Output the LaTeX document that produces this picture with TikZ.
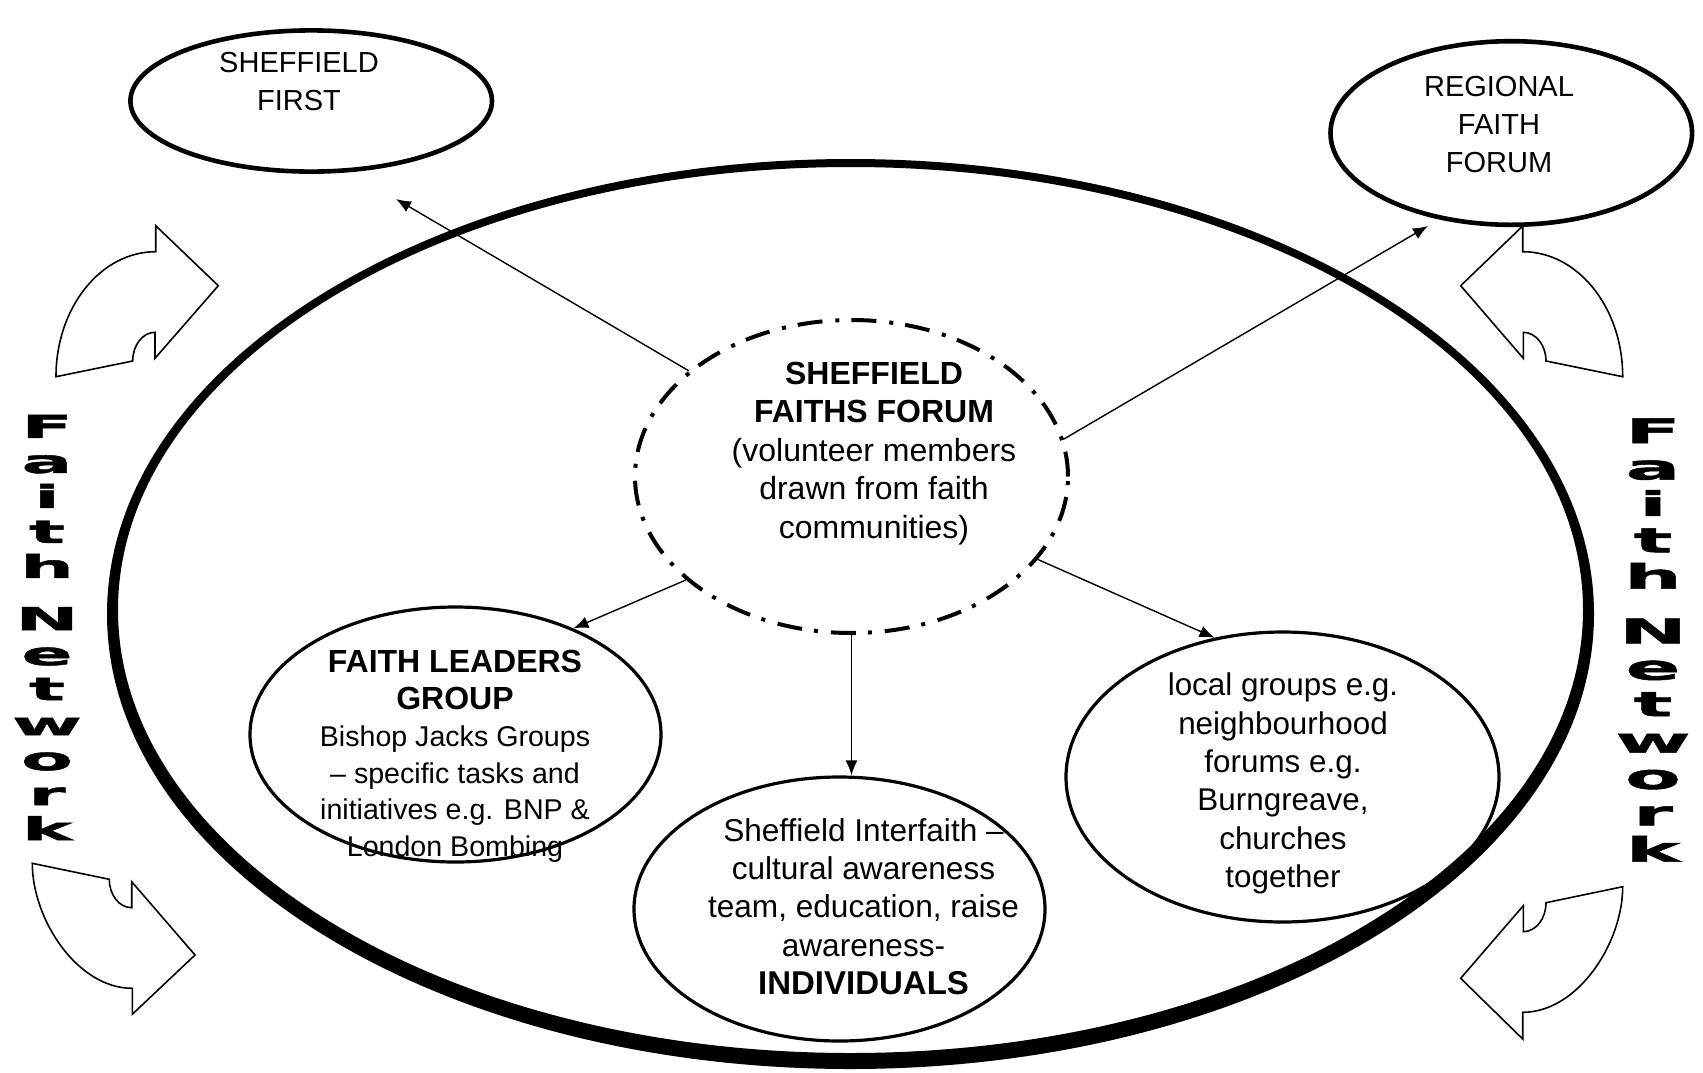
\documentclass[tikz,border=0pt]{standalone}
\usepackage{fontspec}
\setmainfont{Liberation Sans}
\newfontfamily\heavyfont[FakeStretch=2.4,FakeBold=1.5]{DejaVu Sans}
\usetikzlibrary{shapes.geometric,arrows.meta}
\tikzset{
  bub/.style={draw, ellipse, line width=1.6pt, inner sep=0pt},
  topbub/.style={draw, ellipse, line width=2.3pt, inner sep=0pt},
  txt/.style={align=center, inner sep=0pt, font=\fontsize{15.7}{19.2}\selectfont},
  conn/.style={-{Latex[length=7.5pt,width=6pt]}, line width=0.7pt},
  curvearrow/.style={draw, line width=0.8pt, line join=miter, fill=white},
  vert/.style={align=center, inner sep=0pt},
}
\begin{document}
\begin{tikzpicture}[x=0.5pt,y=-0.5pt]
\useasboundingbox (0,0) rectangle (1703,1072);
% outer thick ellipse (ring, heavier at the bottom)
\fill[even odd rule] (850.5,614) ellipse [x radius=743.5, y radius=455]
                     (850.5,610) ellipse [x radius=732.5, y radius=443];
% top ellipses
\node[topbub, minimum width=180.8pt, minimum height=70.6pt] (sf) at (311.2,101) {};
\node[topbub, minimum width=180.8pt, minimum height=91.8pt] (rf) at (1511.3,133) {};
% centre dash-dot ellipse
\node[draw, ellipse, inner sep=0pt, line width=2pt, dash pattern=on 12.5pt off 6pt on 2pt off 6.5pt, minimum width=216.5pt, minimum height=156.5pt] (ff) at (851.5,476.5) {};
% inner ellipses
\node[bub, minimum width=205.5pt, minimum height=127.5pt] (fl) at (455.5,734.5) {};
\node[bub, minimum width=205.5pt, minimum height=132pt] (ii) at (839.5,909) {};
\node[bub, minimum width=216.5pt, minimum height=145pt] (lg) at (1282.5,777) {};

% texts
\node[txt, font=\fontsize{14.5}{19}\selectfont] (sftxt) at (299,82) {SHEFFIELD\\FIRST};
\node[txt, font=\fontsize{14.5}{19}\selectfont] (rftxt) at (1499,125) {REGIONAL\\FAITH\\FORUM};
\node[txt, font=\fontsize{16}{19.3}\selectfont] (fftxt) at (874,453.5) {{\bfseries SHEFFIELD}\\{\bfseries FAITHS FORUM}\\(volunteer members\\drawn from faith\\communities)};
\node[txt, font=\fontsize{14.3}{18.4}\selectfont] (fltxt) at (455,756.5) {{\fontsize{16}{18.4}\selectfont\bfseries FAITH LEADERS}\\{\fontsize{16}{18.4}\selectfont\bfseries GROUP}\\Bishop Jacks Groups\\– specific tasks and\\initiatives e.g. BNP \&\\London Bombing};
\node[txt, font=\fontsize{15.8}{19.15}\selectfont] (iitxt) at (863.5,906.5) {Sheffield Interfaith –\\cultural awareness\\team, education, raise\\awareness-\\{\fontsize{16.5}{19.15}\selectfont\bfseries INDIVIDUALS}};
\node[txt] (lgtxt) at (1283,783.5) {local groups e.g.\\neighbourhood\\forums e.g.\\Burngreave,\\churches\\together};

% connectors
\coordinate (t1) at (396,199);
\coordinate (t2) at (1428,226);
\draw[conn] (ff.147) -- (t1);
\draw[conn] (ff.10) -- (t2);
\draw[conn] (ff.212) -- (fl.42);
\draw[conn] (ff.south) -- (ff.south |- ii.north);
\draw[conn] (ff.336) -- (lg.116);

% curved block arrows
\draw[curvearrow] (218.3,285.7) -- (155.7,225.7) -- (155.7,251.7) .. controls (100.6,251.7) and (56,307.7) .. (56,376.7) -- (132.7,361) .. controls (132.7,345.1) and (142.7,332.3) .. (155,332.3) -- (155,358.3) -- cycle;
\draw[curvearrow] (1460.7,285.7) -- (1522.7,226) -- (1522.7,251.7) .. controls (1578,251.7) and (1622.7,307.7) .. (1622.7,376.7) -- (1546,361) .. controls (1546,345.1) and (1535.6,332.3) .. (1523.3,332.3) -- (1523.3,358.3) -- cycle;
\draw[curvearrow] (32.3,863.3) -- (109.3,879.3) .. controls (109.3,895) and (119.3,907.7) .. (131.7,907.7) -- (131.7,881.7) -- (195,955) -- (132.3,1014.3) -- (132.3,988.3) .. controls (77.1,988.3) and (32.3,919.3) .. (32.3,863.3) -- cycle;
\draw[curvearrow] (1622.7,886.7) -- (1546,902.7) .. controls (1546,918.7) and (1535.8,931.7) .. (1523.3,931.7) -- (1523.3,905.7) -- (1460.7,978.3) -- (1522.7,1039) -- (1522.7,1012.3) .. controls (1577.9,1012.3) and (1622.7,942.9) .. (1622.7,886.7) -- cycle;

% vertical labels
\node[vert, font=\heavyfont\bfseries\fontsize{15.8}{17.5}\selectfont] (fnl) at (47,627.5) {F\\a\\i\\t\\h\\[8.6pt]N\\e\\t\\w\\o\\r\\k};
\node[vert, font=\heavyfont\bfseries\fontsize{17}{18.2}\selectfont] (fnr) at (1653,640) {F\\a\\i\\t\\h\\[9.1pt]N\\e\\t\\w\\o\\r\\k};
\end{tikzpicture}
\end{document}
